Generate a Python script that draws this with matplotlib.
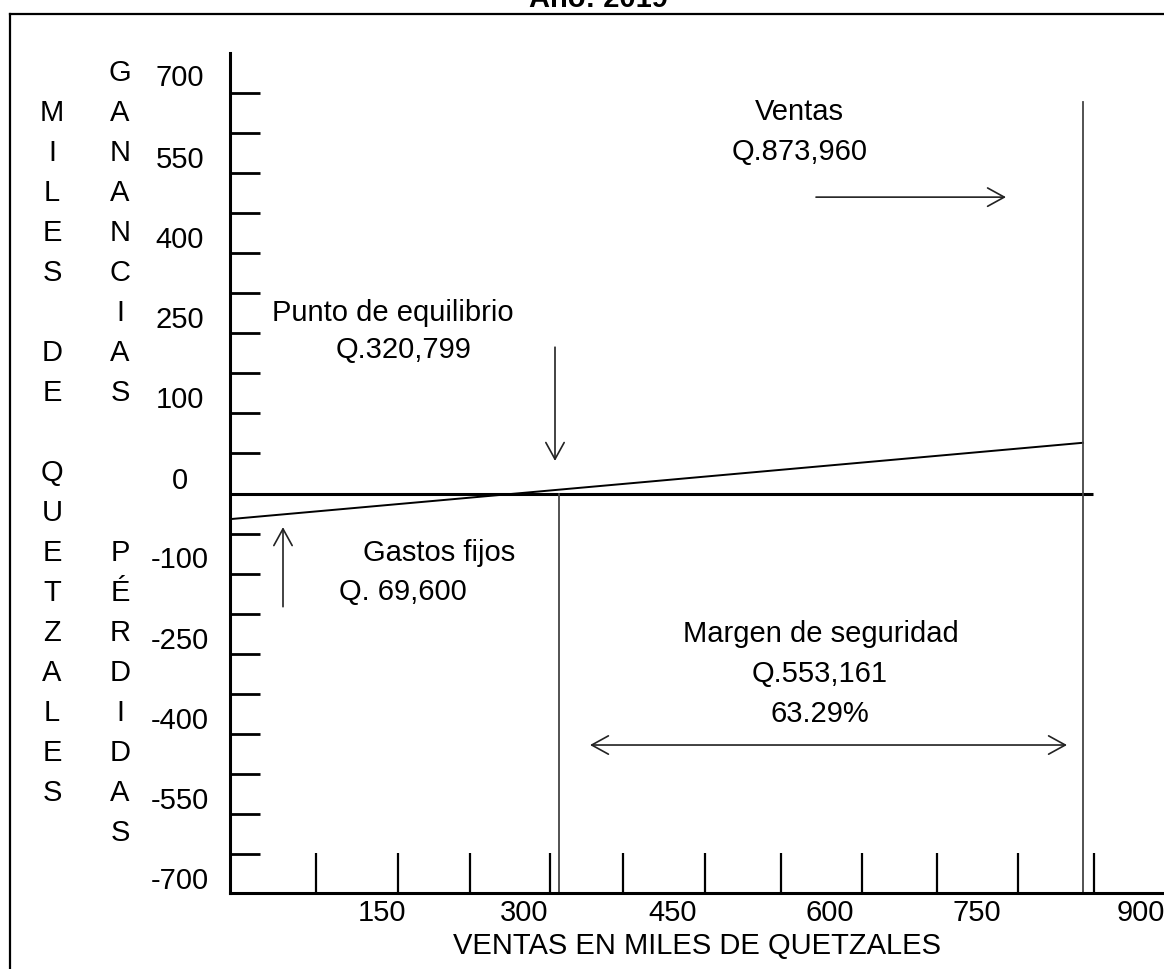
import matplotlib
matplotlib.use("Agg")
import matplotlib.pyplot as plt
from matplotlib.lines import Line2D

plt.rcParams['font.family'] = ['Liberation Sans', 'DejaVu Sans']

# ---------------- data (thousands of quetzales) ----------------
title = "Año: 2019"
x_axis_title = "VENTAS EN MILES DE QUETZALES"

x_label_values = [150, 300, 450, 600, 750, 900]
x_label_pos = [152, 294, 443, 600, 747, 911]          # where the labels sit
x_tick_marks = [86, 168, 240, 320, 393, 475, 551, 632, 707, 788, 864]

y_label_values = ["700", "550", "400", "250", "100", "0",
                  "-100", "-250", "-400", "-550", "-700"]
y_label_pos = [784, 630, 480, 330, 181, 29, -119, -271, -420, -570, -720]
y_tick_marks = [75 * k for k in range(-9, 11)]

# drawn positions
profit_x = [0, 853]          # profit / loss line
profit_y = [-48, 95]
zero_line_x = [0, 863]
breakeven_x = 329            # vertical line at break-even point
sales_x = 853                # vertical line at sales
sales_top = 733

# annotations (text, x, y)
labels = [
    ("Ventas", 569, 714),
    ("Q.873,960", 570, 639),
    ("Punto de equilibrio", 163, 338),
    ("Q.320,799", 174, 269),
    ("Gastos fijos", 209, -111),
    ("Q. 69,600", 173, -184),
    ("Margen de seguridad", 591, -263),
    ("Q.553,161", 590, -338),
    ("63.29%", 590, -413),
]
# arrows (tail, head, style)
arrows = [
    ((586, 555), (776, 555), "->"),      # ventas
    ((325, 274), (325, 61), "->"),       # punto de equilibrio
    ((53, -212), (53, -63), "->"),       # gastos fijos
    ((360, -471), (837, -471), "<->"),   # margen de seguridad
]

col1_letters = ["M", "I", "L", "E", "S", "", "D", "E", "",
                "Q", "U", "E", "T", "Z", "A", "L", "E", "S"]
col2_top = list("GANANCIAS")
col2_bottom = list("PÉRDIDAS")

# ---------------- figure ----------------
W, H = 1164, 969
fig = plt.figure(figsize=(W / 100, H / 100), dpi=100)
ax = fig.add_axes([230 / W, (H - 893) / H, 934 / W, (893 - 53) / H])

ppu = 40.05 / 75.0  # pixels per y unit
def ydat(px):
    return (493.5 - px) / ppu

ax.set_xlim(0, 934)
ax.set_ylim(ydat(893), ydat(53))

for s in ["top", "right"]:
    ax.spines[s].set_visible(False)
for s in ["left", "bottom"]:
    ax.spines[s].set_linewidth(2.2)

FS = 21
ax.set_xticks(x_tick_marks, minor=True)
ax.set_xticks(x_label_pos, [str(v) for v in x_label_values])
ax.tick_params(axis="x", which="minor", direction="in", length=28.8, width=1.6)
ax.tick_params(axis="x", which="major", length=0, pad=4, labelsize=FS)

ax.set_yticks(y_tick_marks, minor=True)
ax.set_yticks(y_label_pos, y_label_values)
ax.tick_params(axis="y", which="minor", direction="in", length=21.6, width=2.0)
ax.tick_params(axis="y", which="major", length=0, pad=36, labelsize=FS)
for t in ax.get_yticklabels():
    t.set_horizontalalignment("center")

ax.set_xlabel(x_axis_title, fontsize=FS, labelpad=4)

# lines
ax.plot(zero_line_x, [0, 0], color="black", lw=2.2, solid_capstyle="butt")
ax.plot(profit_x, profit_y, color="black", lw=1.4)
ymin = ax.get_ylim()[0]
ax.plot([breakeven_x, breakeven_x], [0, ymin], color="#444444", lw=1.3)
ax.plot([sales_x, sales_x], [sales_top, ymin], color="#444444", lw=1.3)

for txt, x, y in labels:
    ax.text(x, y, txt, fontsize=FS, ha="center", va="center")

for tail, head, style in arrows:
    ax.annotate("", xy=head, xytext=tail,
                arrowprops=dict(arrowstyle=style + ",head_length=0.6,head_width=0.33",
                                lw=1.2, color="#222222", shrinkA=0, shrinkB=0,
                                mutation_scale=20))

# vertical letter columns
for i, ch in enumerate(col1_letters):
    if ch:
        ax.text(52 - 230, ydat(113 + 40 * i), ch, fontsize=FS, ha="center",
                va="center", clip_on=False)
for i, ch in enumerate(col2_top):
    ax.text(120 - 230, ydat(73 + 40 * i), ch, fontsize=FS, ha="center",
            va="center", clip_on=False)
for i, ch in enumerate(col2_bottom):
    ax.text(120 - 230, ydat(553 + 40 * i), ch, fontsize=FS, ha="center",
            va="center", clip_on=False)

# border and cut-off title
fig.add_artist(Line2D([10 / W, 1], [1 - 14 / H, 1 - 14 / H],
                      transform=fig.transFigure, color="black", lw=1.6))
fig.add_artist(Line2D([10 / W, 10 / W], [0, 1 - 14 / H],
                      transform=fig.transFigure, color="black", lw=1.6))
fig.text(598 / W, 1 - 7 / H, title, ha="center", va="baseline",
         fontsize=FS, fontweight="bold")

fig.savefig("out.png", dpi=100)
